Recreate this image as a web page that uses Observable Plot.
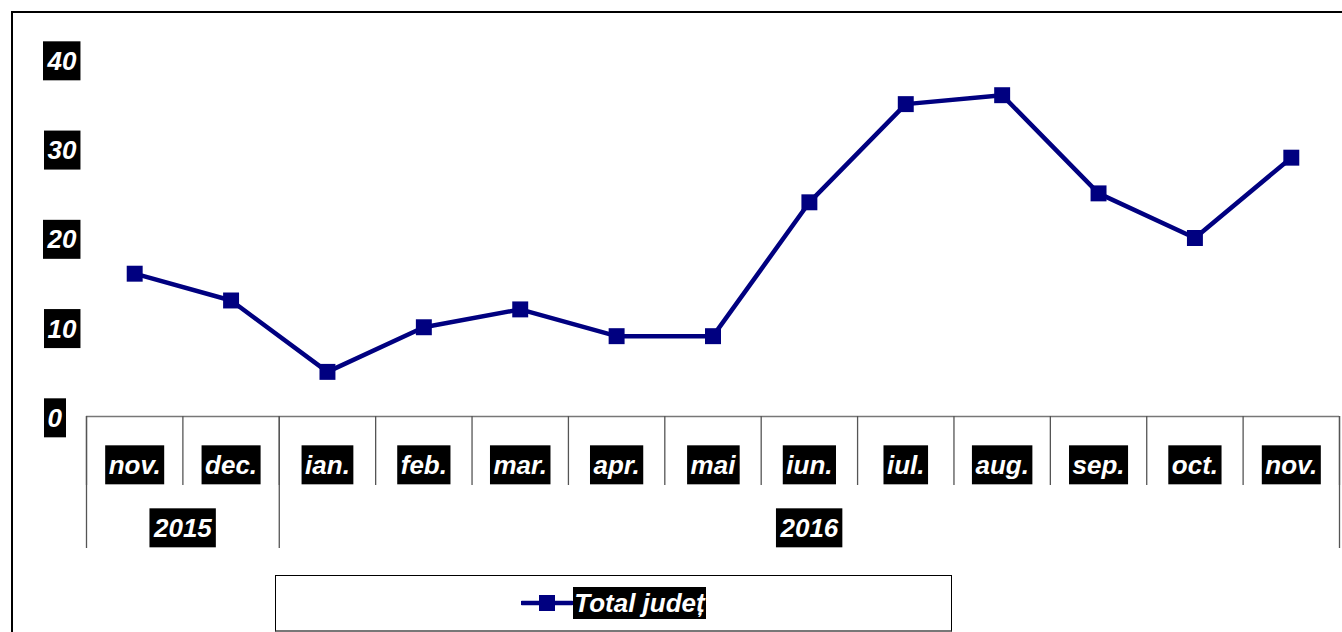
<!DOCTYPE html>
<html>
<head>
<meta charset="utf-8">
<script src="https://cdn.jsdelivr.net/npm/d3@7"></script>
<script src="https://cdn.jsdelivr.net/npm/@observablehq/plot@0.6"></script>
<style>
  body { margin: 0; background: #fff; }
  #wrap { position: relative; width: 1342px; height: 632px; overflow: hidden; font-family: "Liberation Sans", Arial, sans-serif; }
  #chart { position: absolute; left: 0; top: 0; }
  #frame { position: absolute; left: 11px; top: 11px; right: -10px; bottom: -10px; border-top: 2px solid #000; border-left: 2px solid #000; pointer-events: none; }
  #legend { position: absolute; left: 275px; top: 575px; width: 675px; height: 54px; border: 1px solid #000; border-bottom: 2px solid #777; display: flex; align-items: center; justify-content: center; background: #fff; }
  #legend .lt { background: #000; color: #fff; font: italic bold 26px "Liberation Sans", Arial, sans-serif; line-height: 32px; padding: 0 1px; }
  #legend svg { display: block; }
</style>
</head>
<body>
<div id="wrap">
  <div id="chart"></div>
  <div id="frame"></div>
  <div id="legend"></div>
</div>
<script>
// ---- data ----
const months = ["nov.", "dec.", "ian.", "feb.", "mar.", "apr.", "mai", "iun.", "iul.", "aug.", "sep.", "oct.", "nov."];
const years  = ["2015", "2015", "2016", "2016", "2016", "2016", "2016", "2016", "2016", "2016", "2016", "2016", "2016"];
const values = [16, 13, 5, 10, 12, 9, 9, 24, 35, 36, 25, 20, 29];
const yTicks = [0, 10, 20, 30, 40];
const seriesName = "Total județ";

// ---- derived tables ----
const idx = months.map((_, i) => i);
const monthBounds = idx.map(i => i - 0.5).concat([months.length - 0.5]);
const yearGroups = Array.from(d3.group(idx, i => years[i]), ([year, ii]) => ({
  year, first: d3.min(ii), last: d3.max(ii), center: (d3.min(ii) + d3.max(ii)) / 2
}));
const yearBounds = [yearGroups[0].first - 0.5].concat(yearGroups.map(g => g.last + 0.5));

const navy = "#000080";
const lbl = { fill: "white", fontSize: 26, fontWeight: "bold", fontStyle: "italic", fontFamily: "Liberation Sans, Arial, sans-serif" };

const chart = Plot.plot({
  width: 1342,
  height: 565,
  marginLeft: 86,
  marginRight: 3,
  marginTop: 59,
  marginBottom: 149,
  x: { type: "linear", domain: [-0.5, months.length - 0.5], axis: null },
  y: { domain: [0, 40], axis: null },
  style: { background: "transparent", overflow: "visible" },
  marks: [
    Plot.ruleY([0], { x1: () => monthBounds[0], x2: () => monthBounds[monthBounds.length - 1], stroke: "#777", strokeWidth: 1.5 }),
    Plot.ruleX(monthBounds, { x: d => d, insetTop: 357, insetBottom: -69, stroke: "#555", strokeWidth: 1.3 }),
    Plot.ruleX(yearBounds, { x: d => d, insetTop: 357, insetBottom: -132, stroke: "#555", strokeWidth: 1.3 }),
    Plot.line(values, { x: (d, i) => i, y: d => d, stroke: navy, strokeWidth: 4.5, strokeLinejoin: "round" }),
    Plot.dot(values, { x: (d, i) => i, y: d => d, symbol: "square", r: 9, fill: navy, stroke: "none" }),
    Plot.text(months, { x: (d, i) => i, y: () => 0, dy: 49, text: d => d, ...lbl }),
    Plot.text(yearGroups, { x: "center", y: () => 0, dy: 112, text: "year", ...lbl }),
    Plot.text(yTicks, { y: d => d, frameAnchor: "left", dx: -39, dy: 2, text: d => String(d), ...lbl })
  ]
});

document.getElementById("chart").append(chart);

// black boxes behind white labels
const NS = "http://www.w3.org/2000/svg";
chart.querySelectorAll('g[aria-label="text"] text').forEach(t => {
  const bb = t.getBBox();
  const r = document.createElementNS(NS, "rect");
  r.setAttribute("x", bb.x - 3.5);
  r.setAttribute("y", bb.y - 4.5);
  r.setAttribute("width", bb.width + 7);
  r.setAttribute("height", bb.height + 9);
  r.setAttribute("fill", "#000");
  const tr = t.getAttribute("transform");
  if (tr) r.setAttribute("transform", tr);
  t.parentNode.insertBefore(r, t);
});

// legend
const leg = document.getElementById("legend");
leg.innerHTML = `<svg width="52" height="20"><line x1="1" y1="10" x2="51" y2="10" stroke="${navy}" stroke-width="4.5" stroke-linecap="round"/><rect x="18" y="2" width="16" height="16" fill="${navy}"/></svg><span class="lt"></span>`;
leg.querySelector(".lt").textContent = seriesName;
</script>
</body>
</html>
